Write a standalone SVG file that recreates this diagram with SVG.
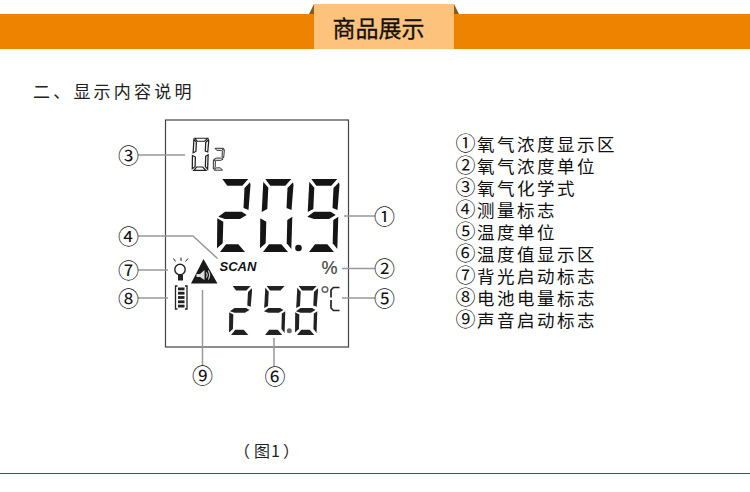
<svg xmlns="http://www.w3.org/2000/svg" width="750" height="492" viewBox="0 0 750 492">
<style>
.cjk{font-family:"Noto Sans CJK SC","Liberation Sans",sans-serif}
.item{font-size:17.5px;letter-spacing:2.500px;fill:#111}
.n{font-size:20px;letter-spacing:1.500px}
.num{font-size:21px;fill:#111;text-anchor:middle}
.line{fill:none;stroke:#999;stroke-width:1.5}
.solid{fill:#151515}
.lower{fill:#222}
</style>
<defs>
<polygon id="a" points="5.3,0 31.3,0 25.3,6.7 10.3,6.7"/>
<polygon id="b" points="33,3.3 33.5,6 31.5,31 26.5,29 27.5,9"/>
<polygon id="c" points="27.3,41 32.3,37.7 31.3,70 26.7,64.3"/>
<polygon id="d" points="3,73 9,65.3 21.3,65.3 28,73"/>
<polygon id="e" points="0.3,39.3 6.3,42.7 5.7,64.3 0,69.3"/>
<polygon id="f" points="3.3,2.7 8.3,8.7 7.3,30 1.7,33"/>
<polygon id="g" points="1.3,37.7 8,32.7 24.7,32.7 29.7,36 23,40 8,40"/>
<g id="d2"><use href="#a"/><use href="#b"/><use href="#g"/><use href="#e"/><use href="#d"/></g>
<g id="d0"><use href="#a"/><use href="#b"/><use href="#c"/><use href="#d"/><use href="#e"/><use href="#f"/></g>
<g id="d9"><use href="#a"/><use href="#b"/><use href="#c"/><use href="#d"/><use href="#f"/><use href="#g"/></g>
<g id="d5"><use href="#a"/><use href="#c"/><use href="#d"/><use href="#f"/><use href="#g"/></g>
<g id="d8"><use href="#a"/><use href="#b"/><use href="#c"/><use href="#d"/><use href="#e"/><use href="#f"/><use href="#g"/></g>
</defs>
<rect width="750" height="492" fill="#fff"/>

<g id="header">
<rect x="0" y="14" width="750" height="35" fill="#ee8300"/>
<polygon points="309,14 314,4 314,14" fill="#8a5a1e"/>
<polygon points="454,4 459,14 454,14" fill="#8a5a1e"/>
<rect x="314" y="4" width="140" height="45" fill="#fdc27c"/>
<text class="cjk" x="378.500" y="37" font-size="23" text-anchor="middle" fill="#111" stroke="#111" stroke-width=".3">商品展示</text>
</g>

<text id="subtitle" class="cjk" x="33" y="97.500" font-size="17" letter-spacing="3.200" fill="#222">二、显示内容说明</text>

<g id="lcd-frame"><rect x="165.500" y="120" width="183" height="227" fill="#fff" stroke="#444" stroke-width="1.2"/></g>

<g id="connectors">
<path class="line" d="M138 155H185"/>
<path class="line" d="M344 216H375"/>
<path class="line" d="M138 236H193L217.500 258.500"/>
<path class="line" d="M342 268.500H375"/>
<path class="line" d="M342 298H375"/>
<path class="line" d="M274 338V366"/>
<path class="line" d="M138 270H168"/>
<path class="line" d="M138 298H168"/>
<path class="line" d="M202.500 290V366"/>
</g>

<g id="node-3"><text class="cjk num" x="128.500" y="162.500">③</text>
<g fill="#fff" stroke="#222" stroke-width="2.600" transform="translate(192.300 138.300) scale(.49 .44)"><use href="#d0"/></g>
<g fill="#fff" stroke="#222" stroke-width="3" transform="translate(213.300 148.300) scale(.33 .3)"><use href="#d2"/></g>
</g>
<g id="node-1"><text class="cjk num" x="384.500" y="224">①</text>
<g class="solid">
<use href="#d2" transform="translate(217 179)"/>
<use href="#d0" transform="translate(260 179)"/>
<circle cx="298.500" cy="248" r="3.300"/>
<use href="#d9" transform="translate(306 179)"/>
</g></g>
<g id="node-4"><text class="cjk num" x="128.500" y="244">④</text>
<text x="219.500" y="270.500" font-family="Liberation Sans,sans-serif" font-size="13" font-weight="bold" font-style="italic" fill="#111">SCAN</text></g>
<g id="node-2"><text class="cjk num" x="384.500" y="276">②</text>
<text x="329.500" y="274" font-family="Liberation Sans,sans-serif" font-size="18" text-anchor="middle" fill="#444" stroke="#444" stroke-width=".2">%</text></g>
<g id="node-5"><text class="cjk num" x="384.500" y="306">⑤</text>
<circle cx="325" cy="289.500" r="2.800" fill="none" stroke="#666" stroke-width="1.500"/>
<path d="M339.500 287.500H333.500L331 290V297.500M331 300V308L333.500 310.500H339.500" fill="none" stroke="#222" stroke-width="1.700"/>
</g>
<g id="node-6"><text class="cjk num" x="275" y="383.500">⑥</text>
<g class="lower">
<use href="#d2" transform="translate(229 286) scale(.69 .67)"/>
<use href="#d5" transform="translate(263 286) scale(.69 .67)"/>
<circle cx="289.300" cy="330.700" r="2.500" fill="#666"/>
<use href="#d8" transform="translate(295 286) scale(.69 .67)"/>
</g></g>
<g id="node-7"><text class="cjk num" x="128.500" y="277.500">⑦</text>
<circle cx="180" cy="269.500" r="5.200" fill="#fff" stroke="#222" stroke-width="1.400"/>
<rect x="178" y="275" width="5" height="5.500" fill="#222"/>
<path d="M173.500 258.500L175.500 261.500M181 257.500V261M188 258.500L185.500 261.500" stroke="#222" stroke-width="1" fill="none"/>
</g>
<g id="node-8"><text class="cjk num" x="128.500" y="305.500">⑧</text>
<path d="M177.500 286H175.500V309H177.500M185 286H187V309H185" fill="none" stroke="#222" stroke-width="1.300"/>
<g fill="#222"><rect x="178" y="287.500" width="6.500" height="2.800"/><rect x="178" y="291.800" width="6.500" height="2.800"/><rect x="178" y="296.100" width="6.500" height="2.800"/><rect x="178" y="300.400" width="6.500" height="2.800"/><rect x="178" y="304.700" width="6.500" height="2.800"/></g>
</g>
<g id="node-9"><text class="cjk num" x="202.500" y="382.500">⑨</text>
<polygon points="203.500,259 191,283.500 217.500,283.500" fill="#1a1a1a"/>
<polygon points="196.500,274 200,274 204.500,270 204.500,280 200,277 196.500,277" fill="#ddd"/>
<path d="M206.500 272.500Q208 275 206.500 277.500M208.500 270.500Q211 275 208.500 279.500" fill="none" stroke="#eee" stroke-width="1"/>
</g>

<g id="legend" class="cjk">
<text class="item" x="455.500" y="151"><tspan class="n">①</tspan>氧气浓度显示区</text>
<text class="item" x="455.500" y="173"><tspan class="n">②</tspan>氧气浓度单位</text>
<text class="item" x="455.500" y="195"><tspan class="n">③</tspan>氧气化学式</text>
<text class="item" x="455.500" y="217"><tspan class="n">④</tspan>测量标志</text>
<text class="item" x="455.500" y="239"><tspan class="n">⑤</tspan>温度单位</text>
<text class="item" x="455.500" y="261"><tspan class="n">⑥</tspan>温度值显示区</text>
<text class="item" x="455.500" y="283"><tspan class="n">⑦</tspan>背光启动标志</text>
<text class="item" x="455.500" y="305"><tspan class="n">⑧</tspan>电池电量标志</text>
<text class="item" x="455.500" y="327"><tspan class="n">⑨</tspan>声音启动标志</text>
</g>

<text id="caption" class="cjk" x="234" y="456.500" font-size="16" fill="#222">（<tspan dx="4">图</tspan><tspan dx="1">1</tspan><tspan dx="3">）</tspan></text>
<rect id="rule" x="0" y="473" width="750" height="1" fill="#d01818"/>
</svg>
